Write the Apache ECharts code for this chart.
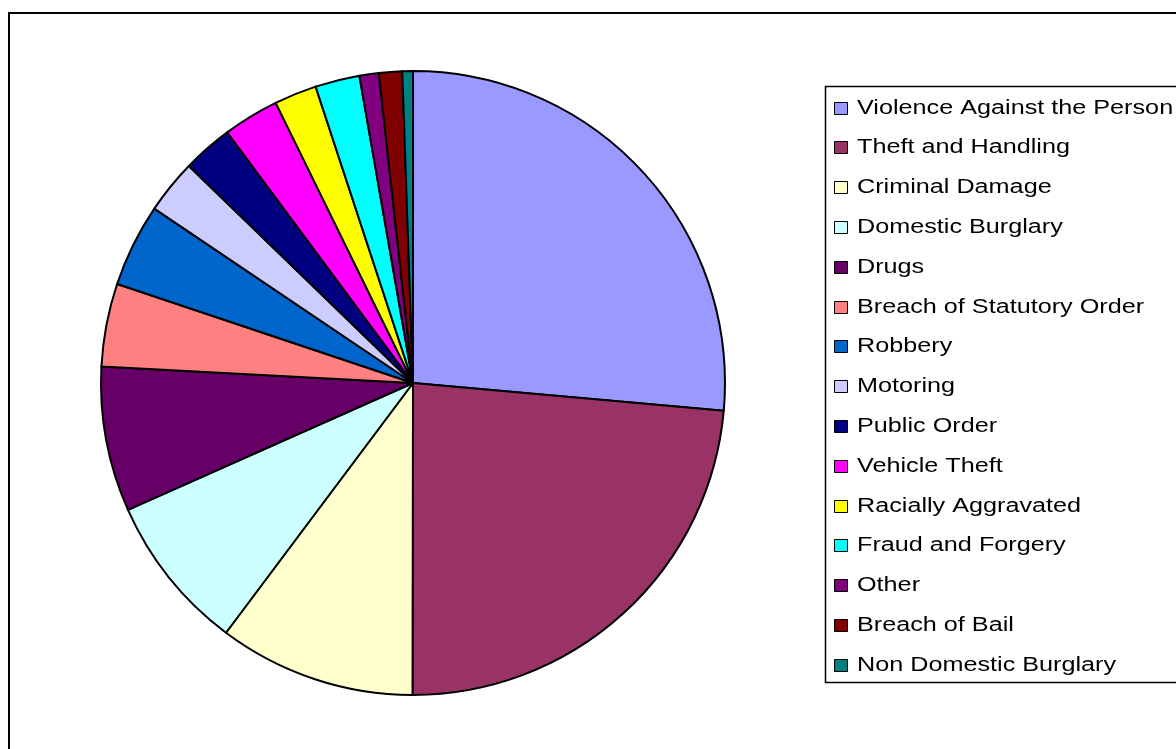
<!DOCTYPE html>
<html>
<head>
<meta charset="utf-8">
<script src="https://cdn.jsdelivr.net/npm/echarts@6/dist/echarts.min.js"></script>
<style>
html,body{margin:0;padding:0;background:#fff;}
#chart{width:1176px;height:749px;}
</style>
</head>
<body>
<div id="chart"></div>
<script>
const categories = [
  "Violence Against the Person",
  "Theft and Handling",
  "Criminal Damage",
  "Domestic Burglary",
  "Drugs",
  "Breach of Statutory Order",
  "Robbery",
  "Motoring",
  "Public Order",
  "Vehicle Theft",
  "Racially Aggravated",
  "Fraud and Forgery",
  "Other",
  "Breach of Bail",
  "Non Domestic Burglary"
];
const values = [26.4, 23.6, 10.2, 8.1, 7.5, 4.3, 4.3, 2.8, 2.6, 2.9, 2.2, 2.3, 1.0, 1.2, 0.55];
const colors = ["#9999FF", "#993366", "#FFFFCC", "#CCFFFF", "#660066", "#FF8080", "#0066CC",
  "#CCCCFF", "#000080", "#FF00FF", "#FFFF00", "#00FFFF", "#800080", "#800000", "#008080"];

// Legend layout (style only)
const LEG_X = 834, LEG_Y0 = 108, LEG_STEP = 39.8, TEXT_X = 857;

const legendGraphics = [];
categories.forEach((name, i) => {
  const cy = LEG_Y0 + i * LEG_STEP;
  legendGraphics.push({
    type: 'rect', silent: true, z: 5,
    shape: {x: LEG_X + 0.5, y: Math.round(cy - 6.5) + 0.5, width: 13, height: 12},
    style: {fill: colors[i], stroke: '#000', lineWidth: 1}
  });
  legendGraphics.push({
    type: 'text', silent: true, z: 5,
    x: TEXT_X, y: cy, scaleX: 1.26, scaleY: 1,
    style: {text: name, fill: '#000', font: '20px "Liberation Sans", Arial, sans-serif',
            textAlign: 'left', textVerticalAlign: 'middle'}
  });
});

const chart = echarts.init(document.getElementById('chart'), null, {renderer: 'canvas'});
chart.setOption({
  animation: false,
  backgroundColor: '#ffffff',
  color: colors,
  graphic: [
    {type: 'rect', shape: {x: 9, y: 13, width: 1300, height: 900},
     style: {fill: 'none', stroke: '#000', lineWidth: 2}, silent: true, z: 0},
    {type: 'rect', shape: {x: 825.5, y: 86.5, width: 500, height: 596},
     style: {fill: '#fff', stroke: '#000', lineWidth: 1.5}, silent: true, z: 1}
  ].concat(legendGraphics),
  series: [{
    type: 'pie',
    center: [413, 383],
    radius: 312,
    startAngle: 90,
    clockwise: true,
    avoidLabelOverlap: false,
    label: {show: false},
    labelLine: {show: false},
    emphasis: {disabled: true},
    itemStyle: {borderColor: '#000', borderWidth: 2},
    data: categories.map((c, i) => ({name: c, value: values[i]}))
  }]
});
</script>
</body>
</html>
